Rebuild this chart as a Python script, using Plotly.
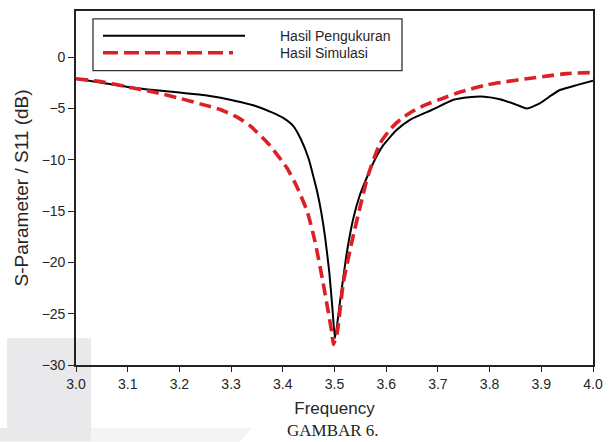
import plotly.graph_objects as go

# ---- data ----
freq_meas = [3.00, 3.05, 3.10, 3.15, 3.20, 3.25, 3.28, 3.32, 3.35, 3.38, 3.40, 3.42, 3.435,
             3.45, 3.458, 3.466, 3.474, 3.482, 3.49, 3.496, 3.501, 3.511, 3.524, 3.536,
             3.548, 3.562, 3.578, 3.594, 3.62, 3.646, 3.69, 3.73, 3.76, 3.79, 3.82, 3.85,
             3.872, 3.897, 3.92, 3.936, 3.97, 4.00]
s11_meas = [-2.1, -2.5, -2.9, -3.2, -3.45, -3.7, -3.95, -4.4, -4.8, -5.4, -5.9, -6.7, -8.0,
            -9.9, -11.4, -13.0, -15.0, -17.6, -21.0, -24.5, -27.4, -23.7, -19.0, -15.8,
            -13.6, -11.8, -10.0, -8.6, -7.1, -6.1, -5.1, -4.15, -3.9, -3.85, -4.1, -4.6,
            -5.0, -4.5, -3.7, -3.2, -2.7, -2.3]

freq_sim = [3.00, 3.05, 3.10, 3.15, 3.20, 3.24, 3.279, 3.31, 3.337, 3.375, 3.408, 3.427,
            3.447, 3.462, 3.478, 3.495, 3.498, 3.505, 3.517, 3.534, 3.549, 3.565, 3.588,
            3.61, 3.627, 3.65, 3.678, 3.71, 3.743, 3.794, 3.83, 3.872, 3.91, 3.949, 4.00]
s11_sim = [-2.1, -2.4, -2.9, -3.4, -4.0, -4.55, -5.1, -5.8, -6.7, -8.6, -10.8, -12.6,
           -15.0, -17.9, -22.0, -26.9, -28.0, -26.9, -22.0, -17.9, -14.7, -11.5, -8.4,
           -6.9, -6.1, -5.3, -4.6, -4.0, -3.4, -2.7, -2.4, -2.1, -1.85, -1.6, -1.5]

series_names = ["Hasil Pengukuran", "Hasil Simulasi"]
x_ticks = [3.0, 3.1, 3.2, 3.3, 3.4, 3.5, 3.6, 3.7, 3.8, 3.9, 4.0]
y_ticks = [-30, -25, -20, -15, -10, -5, 0]

# ---- figure geometry ----
W, H = 613, 442
ML, MR, MT, MB = 76, 20, 9, 77
PW, PH = W - ML - MR, H - MT - MB


def px(x):
    return (x - ML) / PW


def py(y):
    return (H - MB - y) / PH


TXT = "#262626"
RED = "#dd1f26"
SANS = "Liberation Sans, Arial"

fig = go.Figure()
fig.add_trace(go.Scatter(x=freq_meas, y=s11_meas, mode="lines", name=series_names[0],
                         line=dict(color="black", width=2, shape="spline", smoothing=0.5),
                         showlegend=False, hoverinfo="skip"))
fig.add_trace(go.Scatter(x=freq_sim, y=s11_sim, mode="lines", name=series_names[1],
                         line=dict(color=RED, width=3.6, dash="12px,6px",
                                   shape="spline", smoothing=0.5),
                         showlegend=False, hoverinfo="skip"))

shapes = []
# faint watermark shapes (background)
shapes.append(dict(type="rect", xref="paper", yref="paper", x0=px(7), x1=px(91),
                   y0=py(428), y1=py(338), fillcolor="#e9e9ec", line_width=0, layer="below"))
shapes.append(dict(type="rect", xref="paper", yref="paper", x0=px(0), x1=px(91),
                   y0=py(442), y1=py(428), fillcolor="#e9e9ec", line_width=0, layer="below"))
shapes.append(dict(type="path", xref="paper", yref="paper",
                   path=f"M{px(91)},{py(428)} L{px(252)},{py(428)} L{px(240)},{py(442)} L{px(91)},{py(442)} Z",
                   fillcolor="#f4f4f6", line_width=0, layer="below"))

# legend box drawn manually (long sample lines as in the reference)
shapes.append(dict(type="rect", xref="paper", yref="paper", x0=px(93), x1=px(402),
                   y0=py(69), y1=py(17), fillcolor="white",
                   line=dict(color="#333333", width=1.3)))
shapes.append(dict(type="line", xref="paper", yref="paper", x0=px(103), x1=px(245),
                   y0=py(34), y1=py(34), line=dict(color="black", width=2)))
shapes.append(dict(type="line", xref="paper", yref="paper", x0=px(103), x1=px(233),
                   y0=py(51), y1=py(51), line=dict(color=RED, width=3.6, dash="15px,6px")))

annotations = [
    dict(text=series_names[0], xref="paper", yref="paper", x=px(278), y=py(34),
         xanchor="left", yanchor="middle", showarrow=False,
         font=dict(family=SANS, size=14, color=TXT)),
    dict(text=series_names[1], xref="paper", yref="paper", x=px(278), y=py(51),
         xanchor="left", yanchor="middle", showarrow=False,
         font=dict(family=SANS, size=14, color=TXT)),
    dict(text="GAMBAR 6.", xref="paper", yref="paper", x=px(333), y=py(431),
         xanchor="center", yanchor="middle", showarrow=False,
         font=dict(family="Liberation Serif, Times New Roman", size=17, color="#222222")),
]

fig.update_layout(
    width=W, height=H,
    margin=dict(l=ML, r=MR, t=MT, b=MB),
    paper_bgcolor="white", plot_bgcolor="white",
    shapes=shapes, annotations=annotations,
    font=dict(family=SANS, size=14, color=TXT),
    xaxis=dict(range=[3.0, 4.0], tickvals=x_ticks, ticktext=[f"{v:.1f}" for v in x_ticks],
               ticks="outside", ticklen=5, tickwidth=1.3, tickcolor="#222",
               showline=True, linecolor="#222", linewidth=1.6, mirror=True,
               showgrid=False, zeroline=False, tickfont=dict(size=14),
               title=dict(text="Frequency", font=dict(size=17, color=TXT), standoff=12)),
    yaxis=dict(range=[-30, 4.5], tickvals=y_ticks,
               ticks="outside", ticklen=6, tickwidth=1.3, tickcolor="#222",
               showline=True, linecolor="#222", linewidth=1.6, mirror=True,
               showgrid=False, zeroline=False, tickfont=dict(size=14),
               title=dict(text="S-Parameter / S11 (dB)", font=dict(size=19, color=TXT), standoff=8)),
)

fig.write_html("out.html", config={"displayModeBar": False},
               post_script="document.body.style.margin='0';document.body.style.padding='0';")
